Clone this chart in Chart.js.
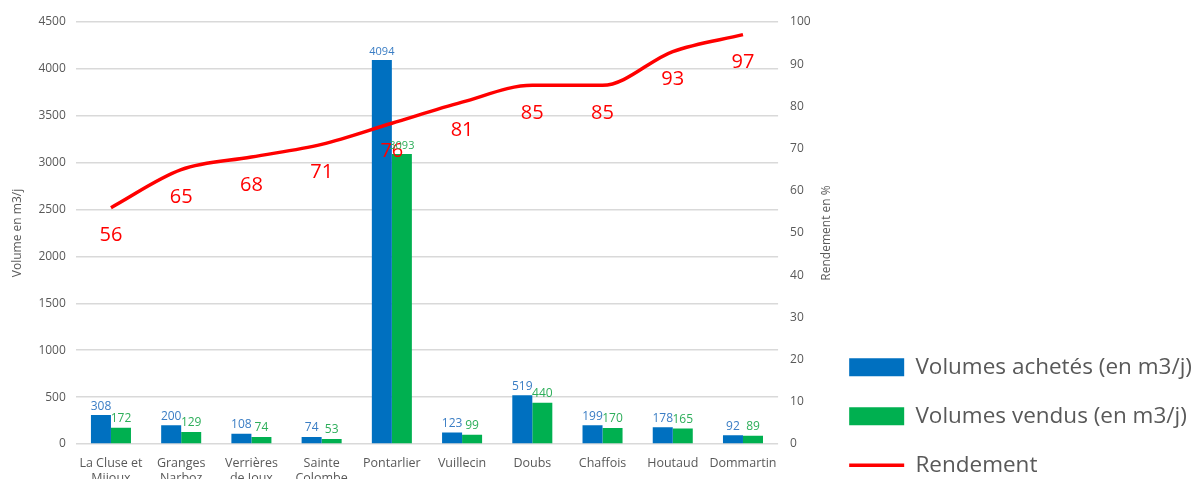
<!DOCTYPE html>
<html>
<head>
<meta charset="utf-8">
<script src="https://cdn.jsdelivr.net/npm/chart.js@4.4.1/dist/chart.umd.min.js"></script>
<style>
  html, body { margin: 0; padding: 0; background: #fff; overflow: hidden; }
  #wrap { width: 1202px; height: 507px; }
</style>
</head>
<body>
<div id="wrap"><canvas id="myChart"></canvas></div>
<script>
// data
const communes = [
  ["La Cluse et", "Mijoux"], ["Granges", "Narboz"], ["Verrières", "de Joux"],
  ["Sainte", "Colombe"], "Pontarlier", "Vuillecin", "Doubs", "Chaffois", "Houtaud", "Dommartin"
]
const volumesAchetes = [308, 200, 108, 74, 4094, 123, 519, 199, 178, 92]
const volumesVendus = [172, 129, 74, 53, 3093, 99, 440, 170, 165, 89]
const rendement = [56, 65, 68, 71, 76, 81, 85, 85, 93, 97]

const GREY = "#595959"
const FONT = "'Open Sans', 'Noto Sans', sans-serif"

// draws the value labels (no datalabels plugin available)
const valueLabels = {
  id: "valueLabels",
  afterDatasetsDraw(chart) {
    const ctx = chart.ctx
    ctx.save()
    chart.data.datasets.forEach((ds, i) => {
      const meta = chart.getDatasetMeta(i)
      meta.data.forEach((el, j) => {
        const v = ds.data[j]
        if (ds.type === "line") {
          ctx.font = "20px " + FONT
          ctx.fillStyle = "#FF0000"
          ctx.textAlign = "center"
          ctx.textBaseline = "middle"
          ctx.fillText(v, el.x, el.y + 28)
        } else {
          // the big Pontarlier values are written a bit smaller
          ctx.font = (v > 1000 ? "11px " : "12px ") + FONT
          ctx.fillStyle = ds.labelColor
          ctx.textAlign = "center"
          ctx.textBaseline = "bottom"
          ctx.fillText(v, el.x, el.y - 3)
        }
      })
    })
    ctx.restore()
  },
}

// right axis title, reading bottom to top like the left one
const rightTitle = {
  id: "rightTitle",
  afterDraw(chart) {
    const s = chart.scales.y2
    const ctx = chart.ctx
    ctx.save()
    ctx.translate(s.right + 4, (s.top + s.bottom) / 2)
    ctx.rotate(-Math.PI / 2)
    ctx.font = "12px " + FONT
    ctx.fillStyle = GREY
    ctx.textAlign = "center"
    ctx.textBaseline = "middle"
    ctx.fillText("Rendement en %", 0, 0)
    ctx.restore()
  },
}

const data = {
  labels: communes,
  datasets: [
    {
      type: "line",
      label: "Rendement",
      data: rendement,
      yAxisID: "y2",
      borderColor: "#FF0000",
      backgroundColor: "#FF0000",
      borderWidth: 3.5,
      pointRadius: 0,
      cubicInterpolationMode: "monotone",
      pointStyle: "line",
    },
    {
      type: "bar",
      label: "Volumes achetés (en m3/j)",
      data: volumesAchetes,
      yAxisID: "y",
      backgroundColor: "#0070C0",
      labelColor: "#3A7DC4",
      categoryPercentage: 0.57,
      barPercentage: 1,
      pointStyle: "rect",
    },
    {
      type: "bar",
      label: "Volumes vendus (en m3/j)",
      data: volumesVendus,
      yAxisID: "y",
      backgroundColor: "#00B050",
      labelColor: "#2DAE5A",
      categoryPercentage: 0.57,
      barPercentage: 1,
      pointStyle: "rect",
    },
  ],
}

const config = {
  type: "bar",
  data: data,
  plugins: [valueLabels, rightTitle],
  options: {
    responsive: true,
    maintainAspectRatio: false,
    animation: false,
    layout: { padding: { left: 6, top: 22, right: 0, bottom: 4 } },
    plugins: {
      tooltip: { enabled: false },
      legend: {
        position: "right",
        align: "end",
        maxWidth: 400,
        labels: {
          usePointStyle: true,
          pointStyleWidth: 55,
          boxHeight: 18,
          padding: 26.5,
          color: GREY,
          font: { family: FONT, size: 22.5 },
          sort: (a, b) => (a.datasetIndex || 9) - (b.datasetIndex || 9),
        },
      },
    },
    scales: {
      x: {
        grid: { display: false },
        border: { display: false },
        ticks: { color: GREY, font: { family: FONT, size: 12.5 }, maxRotation: 0, autoSkip: false, padding: 4 },
        afterFit: (s) => { s.height += 13 },
      },
      y: {
        position: "left",
        min: 0,
        max: 4500,
        ticks: { stepSize: 500, color: GREY, font: { family: FONT, size: 12 }, padding: 10, callback: (v) => String(v) },
        grid: { color: "#d9d9d9", lineWidth: 1.5, drawTicks: false },
        border: { display: false },
        title: { display: true, text: "Volume en m3/j", color: GREY, font: { family: FONT, size: 12 } },
      },
      y2: {
        position: "right",
        min: 0,
        max: 100,
        ticks: { stepSize: 10, color: GREY, font: { family: FONT, size: 12 }, padding: 12 },
        grid: { display: false, drawTicks: false },
        border: { display: false },
      },
    },
  },
}

const myChart = new Chart(document.getElementById("myChart"), config)
</script>
</body>
</html>
